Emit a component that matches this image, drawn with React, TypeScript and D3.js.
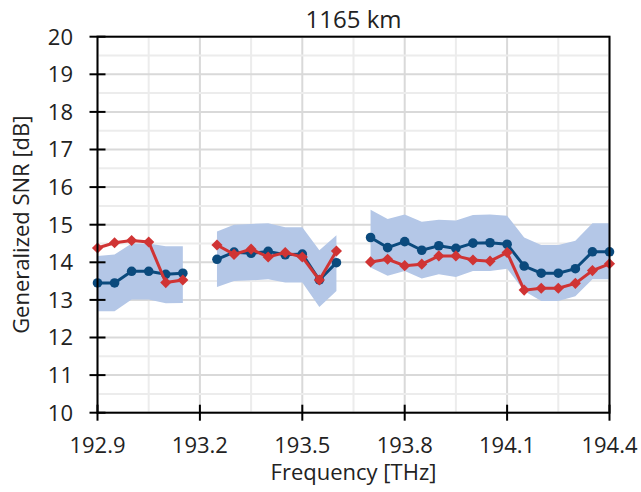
import React, { useEffect, useRef } from 'react';
import * as d3 from 'd3';

// channel frequencies [THz], split in three bands
const freqs = [
  [192.9, 192.95, 193.0, 193.05, 193.1, 193.15],
  [193.25, 193.3, 193.35, 193.4, 193.45, 193.5, 193.55, 193.6],
  [193.7, 193.75, 193.8, 193.85, 193.9, 193.95, 194.0, 194.05, 194.1, 194.15, 194.2, 194.25, 194.3, 194.35, 194.4],
];

// mean generalized SNR (blue)
const snrMean = [
  [13.45, 13.45, 13.76, 13.76, 13.68, 13.71],
  [14.08, 14.27, 14.24, 14.29, 14.2, 14.22, 13.53, 13.99],
  [14.66, 14.39, 14.55, 14.32, 14.44, 14.37, 14.51, 14.52, 14.48, 13.9, 13.71, 13.71, 13.83, 14.28, 14.28],
];

// measured / model SNR (red)
const snrOther = [
  [14.38, 14.52, 14.58, 14.54, 13.46, 13.53],
  [14.46, 14.21, 14.35, 14.14, 14.26, 14.14, 13.53, 14.3],
  [14.01, 14.08, 13.91, 13.95, 14.17, 14.17, 14.06, 14.03, 14.26, 13.26, 13.31, 13.31, 13.44, 13.78, 13.96],
];

// shaded range
const bandHi = [
  [14.17, 14.21, 14.5, 14.5, 14.43, 14.43],
  [14.82, 15.0, 15.02, 15.04, 14.93, 14.93, 14.32, 14.72],
  [15.4, 15.15, 15.27, 15.08, 15.13, 15.11, 15.26, 15.27, 15.24, 14.66, 14.46, 14.46, 14.57, 15.04, 15.04],
];
const bandLo = [
  [12.7, 12.7, 13.01, 13.01, 12.91, 12.92],
  [13.34, 13.5, 13.52, 13.55, 13.46, 13.46, 12.81, 13.24],
  [13.86, 13.64, 13.77, 13.57, 13.68, 13.61, 13.77, 13.77, 13.83, 13.24, 12.97, 12.97, 13.1, 13.55, 13.55],
];

const xTicks = [192.9, 193.2, 193.5, 193.8, 194.1, 194.4];
const yTicks = [10, 11, 12, 13, 14, 15, 16, 17, 18, 19, 20];

export default function App() {
  const ref = useRef<SVGSVGElement>(null);

  useEffect(() => {
    const svg = d3.select(ref.current);
    svg.selectAll('*').remove();

    const left = 97.5, right = 609.5, top = 36.7, bottom = 412.7;
    const x = d3.scaleLinear().domain([192.9, 194.4]).range([left, right]);
    const y = d3.scaleLinear().domain([10, 20]).range([bottom, top]);
    const font = '"Open Sans", "Noto Sans", sans-serif';

    svg.append('rect').attr('width', 641).attr('height', 492).attr('fill', '#fff');

    // grid
    const g = svg.append('g');
    d3.range(192.9, 194.41, 0.15).forEach(v => {
      const major = xTicks.some(t => Math.abs(t - v) < 1e-6);
      g.append('line')
        .attr('x1', x(v)).attr('x2', x(v)).attr('y1', top).attr('y2', bottom)
        .attr('stroke', major ? '#d9d9d9' : '#ececec').attr('stroke-width', 2);
    });
    d3.range(10, 20.01, 0.5).forEach(v => {
      const major = Math.abs(v - Math.round(v)) < 1e-6;
      g.append('line')
        .attr('x1', left).attr('x2', right).attr('y1', y(v)).attr('y2', y(v))
        .attr('stroke', major ? '#d9d9d9' : '#ececec').attr('stroke-width', 2);
    });

    freqs.forEach((fs, k) => {
      const pts = fs.map((f, i) => ({ f, lo: bandLo[k][i], hi: bandHi[k][i] }));
      svg.append('path')
        .datum(pts)
        .attr('fill', '#b4c7e7')
        .attr('d', d3.area<any>().x(d => x(d.f)).y0(d => y(d.lo)).y1(d => y(d.hi)));
    });

    const line = d3.line<[number, number]>().x(d => x(d[0])).y(d => y(d[1]));

    freqs.forEach((fs, k) => {
      const pts = fs.map((f, i) => [f, snrMean[k][i]] as [number, number]);
      svg.append('path').attr('d', line(pts)).attr('fill', 'none')
        .attr('stroke', '#0b4a7d').attr('stroke-width', 3);
      svg.selectAll(null).data(pts).join('circle')
        .attr('cx', d => x(d[0])).attr('cy', d => y(d[1])).attr('r', 4.8)
        .attr('fill', '#0b4a7d');
    });

    freqs.forEach((fs, k) => {
      const pts = fs.map((f, i) => [f, snrOther[k][i]] as [number, number]);
      svg.append('path').attr('d', line(pts)).attr('fill', 'none')
        .attr('stroke', '#d03434').attr('stroke-width', 3);
      svg.selectAll(null).data(pts).join('path')
        .attr('d', d3.symbol(d3.symbolSquare, 62)())
        .attr('transform', d => `translate(${x(d[0])},${y(d[1])}) rotate(45)`)
        .attr('fill', '#d03434');
    });

    // frame + axes
    const ax = svg.append('g').attr('stroke', '#000').attr('stroke-width', 2);
    ax.append('rect').attr('x', left).attr('y', top).attr('width', right - left).attr('height', bottom - top)
      .attr('fill', 'none');
    yTicks.forEach(t => {
      ax.append('line').attr('x1', left - 8).attr('x2', left + 8).attr('y1', y(t)).attr('y2', y(t));
      svg.append('text').attr('x', left - 24.5).attr('y', y(t)).attr('dy', '0.36em')
        .attr('text-anchor', 'end').attr('font-family', font).attr('font-size', 22).attr('fill', '#222')
        .text(t);
    });
    xTicks.forEach(t => {
      ax.append('line').attr('x1', x(t)).attr('x2', x(t)).attr('y1', bottom - 8).attr('y2', bottom + 8);
      svg.append('text').attr('x', x(t)).attr('y', bottom + 40)
        .attr('text-anchor', 'middle').attr('font-family', font).attr('font-size', 22).attr('fill', '#222')
        .text(t.toFixed(1));
    });

    svg.append('text').attr('x', (left + right) / 2).attr('y', 28).attr('text-anchor', 'middle')
      .attr('font-family', font).attr('font-size', 24).attr('fill', '#222').text('1165 km');
    svg.append('text').attr('x', (left + right) / 2).attr('y', 480).attr('text-anchor', 'middle')
      .attr('font-family', font).attr('font-size', 22).attr('fill', '#222').text('Frequency [THz]');
    svg.append('text').attr('transform', `translate(29,${(top + bottom) / 2}) rotate(-90)`)
      .attr('text-anchor', 'middle')
      .attr('font-family', font).attr('font-size', 22).attr('fill', '#222').text('Generalized SNR [dB]');
  }, []);

  return (
    <svg ref={ref} width={641} height={492} style={{ position: 'absolute', left: 0, top: 0 }} />
  );
}
